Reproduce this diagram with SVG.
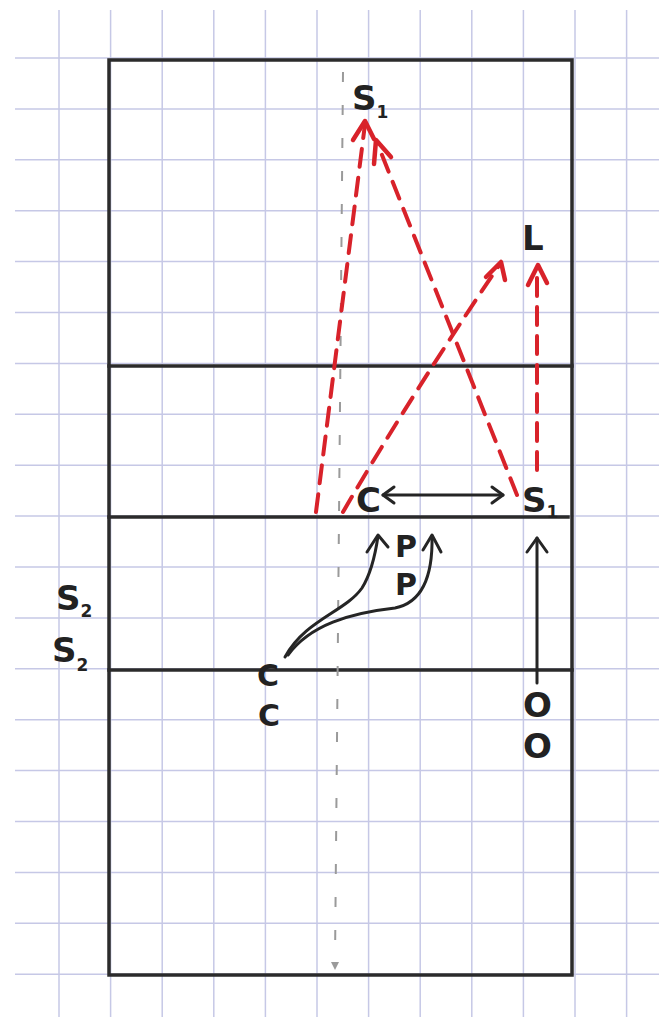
<svg xmlns="http://www.w3.org/2000/svg" width="659" height="1017" viewBox="0 0 659 1017">
<defs>
<style>
.grid line{stroke:#c6c8e6;stroke-width:1.5}
.court{stroke:#2b2b2b;stroke-width:3.5;fill:none;stroke-linecap:square}
.red{stroke:#d8222a;stroke-width:4;fill:none;stroke-dasharray:18 11;stroke-linecap:round}
.redhead{stroke:#d8222a;stroke-width:4.5;fill:none;stroke-linecap:round;stroke-linejoin:round}
.blk{stroke:#252525;stroke-width:3;fill:none;stroke-linecap:round;stroke-linejoin:round}
.guide{stroke:#9a9a9a;stroke-width:2;stroke-dasharray:10 23;fill:none}
.lbl{font-family:"DejaVu Sans",sans-serif;font-size:34px;font-weight:bold;fill:#222}
.sm{font-size:30px}
.sub{font-size:17px}
</style>
</defs>
<rect width="659" height="1017" fill="#ffffff"/>
<g class="grid">
<line x1="59" y1="10" x2="59" y2="1017"/>
<line x1="110.6" y1="10" x2="110.6" y2="1017"/>
<line x1="162.2" y1="10" x2="162.2" y2="1017"/>
<line x1="213.8" y1="10" x2="213.8" y2="1017"/>
<line x1="265.4" y1="10" x2="265.4" y2="1017"/>
<line x1="317" y1="10" x2="317" y2="1017"/>
<line x1="368.6" y1="10" x2="368.6" y2="1017"/>
<line x1="420.2" y1="10" x2="420.2" y2="1017"/>
<line x1="471.8" y1="10" x2="471.8" y2="1017"/>
<line x1="523.4" y1="10" x2="523.4" y2="1017"/>
<line x1="575" y1="10" x2="575" y2="1017"/>
<line x1="626.6" y1="10" x2="626.6" y2="1017"/>
<line x1="15" y1="58" x2="659" y2="58"/>
<line x1="15" y1="108.9" x2="659" y2="108.9"/>
<line x1="15" y1="159.8" x2="659" y2="159.8"/>
<line x1="15" y1="210.7" x2="659" y2="210.7"/>
<line x1="15" y1="261.6" x2="659" y2="261.6"/>
<line x1="15" y1="312.5" x2="659" y2="312.5"/>
<line x1="15" y1="363.4" x2="659" y2="363.4"/>
<line x1="15" y1="414.3" x2="659" y2="414.3"/>
<line x1="15" y1="465.2" x2="659" y2="465.2"/>
<line x1="15" y1="516.1" x2="659" y2="516.1"/>
<line x1="15" y1="567" x2="659" y2="567"/>
<line x1="15" y1="617.9" x2="659" y2="617.9"/>
<line x1="15" y1="668.8" x2="659" y2="668.8"/>
<line x1="15" y1="719.7" x2="659" y2="719.7"/>
<line x1="15" y1="770.6" x2="659" y2="770.6"/>
<line x1="15" y1="821.5" x2="659" y2="821.5"/>
<line x1="15" y1="872.4" x2="659" y2="872.4"/>
<line x1="15" y1="923.3" x2="659" y2="923.3"/>
<line x1="15" y1="974.2" x2="659" y2="974.2"/>
</g>
<g id="court">
<rect class="court" x="109" y="60" width="463" height="915"/>
<line class="court" x1="109" y1="366" x2="572" y2="366"/>
<line class="court" x1="109" y1="517" x2="568" y2="517"/>
<line class="court" x1="109" y1="670" x2="572" y2="670"/>
</g>
<g id="connectors">
<path class="guide" d="M343,72 L335,962"/>
<path d="M331,962 L339,962 L335,970 Z" fill="#9a9a9a"/>
<path class="red" d="M316,512 L365,124"/>
<path class="redhead" d="M353,140 L365,121 L374,139"/>
<path class="red" d="M517,495 L378,145"/>
<path class="redhead" d="M374,164 L376,140 L391,157"/>
<path class="red" d="M343,512 Q408,400 500,264"/>
<path class="redhead" d="M486,277 L501,262 L505,280"/>
<path class="red" d="M537,470 L537,268"/>
<path class="redhead" d="M528,285 L538,265 L547,283"/>
<path class="blk" d="M383,495 L503,495"/>
<path class="blk" d="M394,487 L383,495 L394,503"/>
<path class="blk" d="M492,487 L503,495 L492,503"/>
<path class="blk" d="M285,657 C305,620 345,612 362,588 C372,572 376,550 378,536"/>
<path class="blk" d="M367,552 L378,535 L388,547"/>
<path class="blk" d="M288,655 C310,625 350,613 395,608 C420,603 433,580 432,536"/>
<path class="blk" d="M423,550 L432,535 L441,552"/>
<path class="blk" d="M537,683 L537,538"/>
<path class="blk" d="M527,552 L537,538 L547,552"/>
</g>
<g id="labels">
<text class="lbl" x="352" y="110">S<tspan class="sub" dy="8">1</tspan></text>
<text class="lbl" x="522" y="250">L</text>
<text class="lbl" x="356" y="512">C</text>
<text class="lbl" x="522" y="512">S<tspan class="sub" dy="6">1</tspan></text>
<text class="lbl sm" x="395" y="557">P</text>
<text class="lbl sm" x="395" y="595">P</text>
<text class="lbl" x="56" y="610">S<tspan class="sub" dy="7">2</tspan></text>
<text class="lbl" x="52" y="662">S<tspan class="sub" dy="9">2</tspan></text>
<text class="lbl sm" x="257" y="686">C</text>
<text class="lbl sm" x="258" y="726">C</text>
<text class="lbl" x="523" y="717">O</text>
<text class="lbl" x="523" y="758">O</text>
</g>
</svg>
